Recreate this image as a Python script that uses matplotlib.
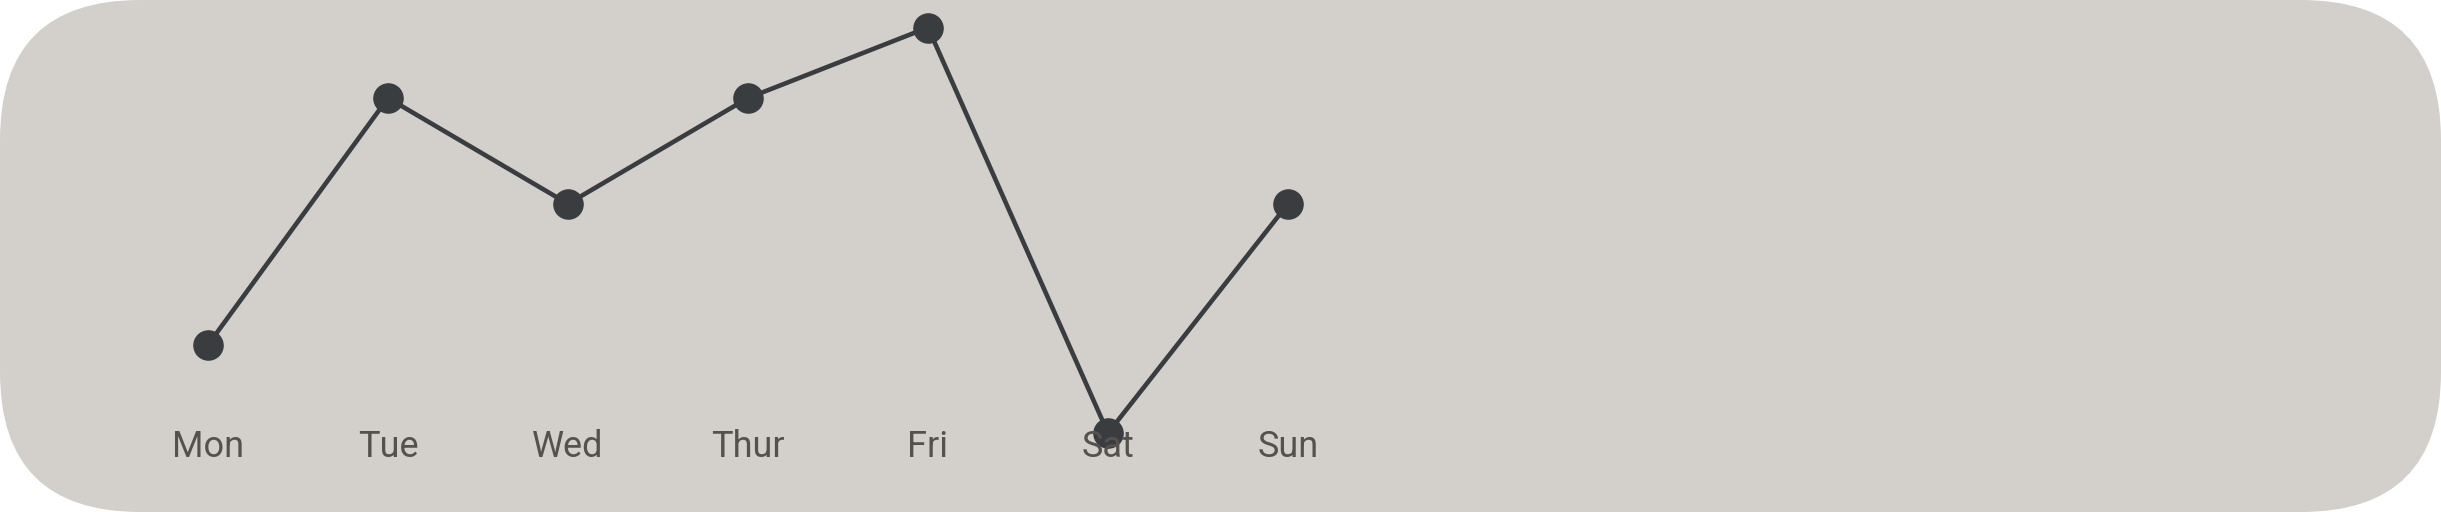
import matplotlib
matplotlib.use("Agg")
import matplotlib.pyplot as plt
from matplotlib.patches import FancyBboxPatch
from matplotlib.transforms import IdentityTransform

days = ["Mon", "Tue", "Wed", "Thur", "Fri", "Sat", "Sun"]
values = [30, 100, 70, 100, 120, 5, 70]

fig = plt.figure(figsize=(24.41, 5.12), dpi=100)
W, H = 2441, 512
r = 140

ax = fig.add_axes([0, 0, 1, 1])
ax.set_facecolor("none")
ax.axis("off")
box = FancyBboxPatch((0, 0), W, H, boxstyle=f"round,pad=0,rounding_size={r}",
                     transform=IdentityTransform(), facecolor="#d3d0cb",
                     edgecolor="none", zorder=0, clip_on=False)
ax.add_artist(box)
xs = list(range(len(days)))
ax.plot(xs, values, color="#393d40", lw=3.3, marker="o", ms=21, zorder=3)
ax.set_xlim(-208 / 180, (W - 208) / 180)
ax.set_ylim(-17.4, 127.8)
for x, d in zip(xs, days):
    ax.text(x, -1.8, d, ha="center", va="baseline", fontsize=26,
            color="#55514d", family="Roboto")
fig.savefig("out.png", dpi=100)
